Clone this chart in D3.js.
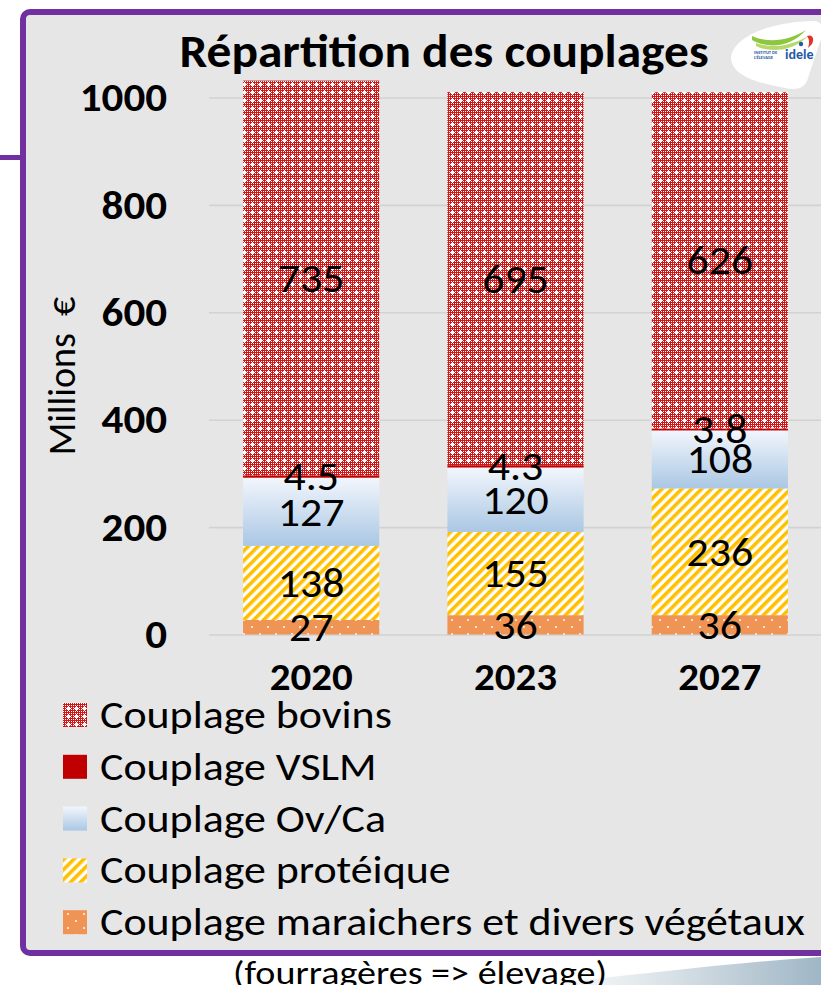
<!DOCTYPE html>
<html>
<head>
<meta charset="utf-8">
<script src="https://cdn.jsdelivr.net/npm/d3@7"></script>
<style>
  html, body { margin: 0; padding: 0; background: #ffffff; }
  svg { display: block; }
  text { font-family: Carlito, Lato, "Open Sans", sans-serif; }
</style>
</head>
<body>
<svg id="chart" width="821" height="985"></svg>
<script>
// ---- data (millions €) ----
const years = ["2020", "2023", "2027"];
const seriesKeys = ["maraichers", "proteique", "ovca", "vslm", "bovins"];
const seriesLabels = {
  bovins: "Couplage bovins",
  vslm: "Couplage VSLM",
  ovca: "Couplage Ov/Ca",
  proteique: "Couplage protéique",
  maraichers: "Couplage maraichers et divers végétaux"
};
const maraichers = [27, 36, 36];
const proteique = [138, 155, 236];
const ovca = [127, 120, 108];
const vslm = [4.5, 4.3, 3.8];
const bovins = [735, 695, 626];
const yTicks = [0, 200, 400, 600, 800, 1000];
const legendOrder = ["bovins", "vslm", "ovca", "proteique", "maraichers"];

const valuesByKey = { maraichers, proteique, ovca, vslm, bovins };
const rows = years.map((year, i) => {
  const r = { year };
  seriesKeys.forEach(k => { r[k] = valuesByKey[k][i]; });
  return r;
});

const svg = d3.select("#chart");
const defs = svg.append("defs");

// slide text is slightly wide: draw it with a horizontal stretch
function wideText(parent, tx, ty, sx, size, str, opts = {}) {
  const g = parent.append("g").attr("transform", `translate(${tx},${ty}) scale(${sx},1)`);
  const t = g.append("text")
    .attr("text-anchor", opts.anchor || "start")
    .attr("dy", opts.dy || null)
    .attr("fill", "#000")
    .style("font-size", size + "px")
    .style("font-weight", opts.bold ? "bold" : null)
    .style("white-space", "pre")
    .text(str);
  return g;
}

// ---- fills ----
// bovins: fine red mesh with small white crosses
const pBov = defs.append("pattern").attr("id", "pat-bovins")
  .attr("patternUnits", "userSpaceOnUse").attr("width", 8).attr("height", 8);
pBov.append("rect").attr("width", 8).attr("height", 8).attr("fill", "#d11818");
for (let x = 1; x < 8; x += 2) for (let y = 1; y < 8; y += 2) {
  pBov.append("rect").attr("x", x).attr("y", y).attr("width", 1).attr("height", 1).attr("fill", "#ffffff");
}
pBov.append("rect").attr("x", 2).attr("y", 4).attr("width", 5).attr("height", 1).attr("fill", "#ffffff");
pBov.append("rect").attr("x", 4).attr("y", 2).attr("width", 1).attr("height", 5).attr("fill", "#ffffff");

// Ov/Ca: vertical gradient white to light blue
const gOv = defs.append("linearGradient").attr("id", "grad-ovca")
  .attr("x1", 0).attr("y1", 0).attr("x2", 0).attr("y2", 1);
gOv.append("stop").attr("offset", "0%").attr("stop-color", "#f2f6fc");
gOv.append("stop").attr("offset", "100%").attr("stop-color", "#aac7e4");

// protéique: yellow diagonal stripes on white
const pPro = defs.append("pattern").attr("id", "pat-proteique")
  .attr("patternUnits", "userSpaceOnUse").attr("width", 7).attr("height", 7)
  .attr("patternTransform", "rotate(45)");
pPro.append("rect").attr("width", 7).attr("height", 7).attr("fill", "#ffffff");
pPro.append("rect").attr("width", 3.6).attr("height", 7).attr("fill", "#ffc000");

// maraichers: orange with sparse white dots
const pMar = defs.append("pattern").attr("id", "pat-maraichers")
  .attr("patternUnits", "userSpaceOnUse").attr("width", 16).attr("height", 14);
pMar.append("rect").attr("width", 16).attr("height", 14).attr("fill", "#ef9455");
pMar.append("rect").attr("x", 3).attr("y", 3).attr("width", 2).attr("height", 2).attr("fill", "#fbe0cc");
pMar.append("rect").attr("x", 11).attr("y", 10).attr("width", 2).attr("height", 2).attr("fill", "#fbe0cc");

const fills = {
  bovins: "url(#pat-bovins)",
  vslm: "#c00000",
  ovca: "url(#grad-ovca)",
  proteique: "url(#pat-proteique)",
  maraichers: "url(#pat-maraichers)"
};

// bottom swoosh gradient
const gSw = defs.append("linearGradient").attr("id", "grad-swoosh")
  .attr("x1", 0).attr("y1", 0).attr("x2", 1).attr("y2", 0);
gSw.append("stop").attr("offset", "0%").attr("stop-color", "#ffffff");
gSw.append("stop").attr("offset", "40%").attr("stop-color", "#dfe6ea");
gSw.append("stop").attr("offset", "100%").attr("stop-color", "#9fb6c6");

// ---- slide frame ----
svg.append("path")
  .attr("d", "M540,985 C640,974 740,962 821,957 L821,985 Z")
  .attr("fill", "url(#grad-swoosh)");
svg.append("rect")
  .attr("x", 23).attr("y", 12).attr("width", 830).attr("height", 941)
  .attr("rx", 7)
  .attr("fill", "#e6e6e6")
  .attr("stroke", "#7030a0").attr("stroke-width", 6);
svg.append("rect").attr("x", 0).attr("y", 155).attr("width", 22).attr("height", 5).attr("fill", "#7030a0");

// ---- scales ----
const x = d3.scaleBand().domain(years).range([209, 822])
  .paddingInner(1 / 3).paddingOuter(1 / 6);
const y = d3.scaleLinear().domain([0, 1000]).range([634.5, 97.5]);

// gridlines + y tick labels
const tickSx = 1.05;
const yAxis = svg.append("g").attr("transform", "translate(209,0)")
  .call(d3.axisLeft(y).tickValues(yTicks).tickSize(-613).tickPadding(42).tickFormat(d3.format("d")));
yAxis.select(".domain").remove();
yAxis.selectAll(".tick line").attr("stroke", "#d2d2d2").attr("stroke-width", 1.6);
yAxis.selectAll(".tick text")
  .attr("fill", "#000").style("font-size", "41px").style("font-weight", "bold")
  .attr("x", -42 / tickSx)
  .attr("transform", `scale(${tickSx},1)`);

// ---- stacked bars ----
const stacked = d3.stack().keys(seriesKeys)(rows);
const layers = svg.append("g").selectAll("g").data(stacked).join("g")
  .attr("fill", d => fills[d.key]);
layers.selectAll("rect").data(d => d).join("rect")
  .attr("x", d => x(d.data.year))
  .attr("width", x.bandwidth())
  .attr("y", d => y(d[1]))
  .attr("height", d => y(d[0]) - y(d[1]));

// value labels centred in each segment
const labels = svg.append("g");
stacked.forEach(layer => {
  layer.forEach(d => {
    wideText(labels, x(d.data.year) + x.bandwidth() / 2, y((d[0] + d[1]) / 2), 1.07, 41,
      String(d.data[layer.key]), { anchor: "middle", dy: "0.34em" });
  });
});

// x axis labels
const xAxis = svg.append("g").attr("transform", "translate(0,634.5)")
  .call(d3.axisBottom(x).tickSize(0).tickPadding(30));
xAxis.select(".domain").remove();
xAxis.selectAll(".tick text")
  .attr("fill", "#000").style("font-size", "39px").style("font-weight", "bold")
  .attr("dy", "0.66em")
  .attr("transform", "scale(1.05,1)");

// y axis title
const yt = svg.append("g").attr("transform", "translate(62,376) rotate(-90)");
wideText(yt, 0, 0, 1.0, 38, "Millions  €", { anchor: "middle", dy: "0.35em" });

// title
wideText(svg, 444, 67, 1.075, 46, "Répartition des couplages", { anchor: "middle", bold: true });

// ---- legend ----
const legend = svg.append("g");
legendOrder.forEach((k, i) => {
  const cy = 715 + i * 51.8;
  legend.append("rect")
    .attr("x", 63).attr("y", cy - 12).attr("width", 24).attr("height", 24)
    .attr("fill", fills[k]);
  wideText(legend, 100, cy, 1.14, 38.5, seriesLabels[k], { dy: "0.34em" });
});

// footnote below the frame
wideText(svg, 420, 984, 1.19, 32, "(fourragères => élevage)", { anchor: "middle" });

// ---- institute logo ----
const logo = svg.append("g");
logo.append("path")
  .attr("d", "M731,57 C734,36 770,22 814,21 C823,21 824,30 820,42 L807,81 C803,89 796,90 785,88 C758,83 731,76 731,57 Z")
  .attr("fill", "#ffffff");
logo.append("path")
  .attr("d", "M752,36 C770,44 790,40 806,30 C792,46 770,50 752,40 Z")
  .attr("fill", "#8dc63f");
logo.append("path")
  .attr("d", "M756,43 C775,50 795,44 808,36 C795,50 772,54 756,46 Z")
  .attr("fill", "#b7d86b");
logo.append("path")
  .attr("d", "M807,36 C812,34 815,38 812,44 L808,48 C810,42 809,39 807,36 Z")
  .attr("fill", "#e4322b");
logo.append("circle").attr("cx", 801).attr("cy", 44).attr("r", 2.2).attr("fill", "#1f5aa6");
logo.append("text").attr("x", 754).attr("y", 54)
  .style("font-size", "4.5px").style("font-weight", "bold").attr("fill", "#1f5aa6").text("INSTITUT DE");
logo.append("text").attr("x", 754).attr("y", 59)
  .style("font-size", "4.5px").style("font-weight", "bold").attr("fill", "#1f5aa6").text("L'ÉLEVAGE");
logo.append("text").attr("x", 785).attr("y", 59)
  .style("font-size", "14px").style("font-weight", "bold").attr("fill", "#1f5aa6").text("idele");
</script>
</body>
</html>
